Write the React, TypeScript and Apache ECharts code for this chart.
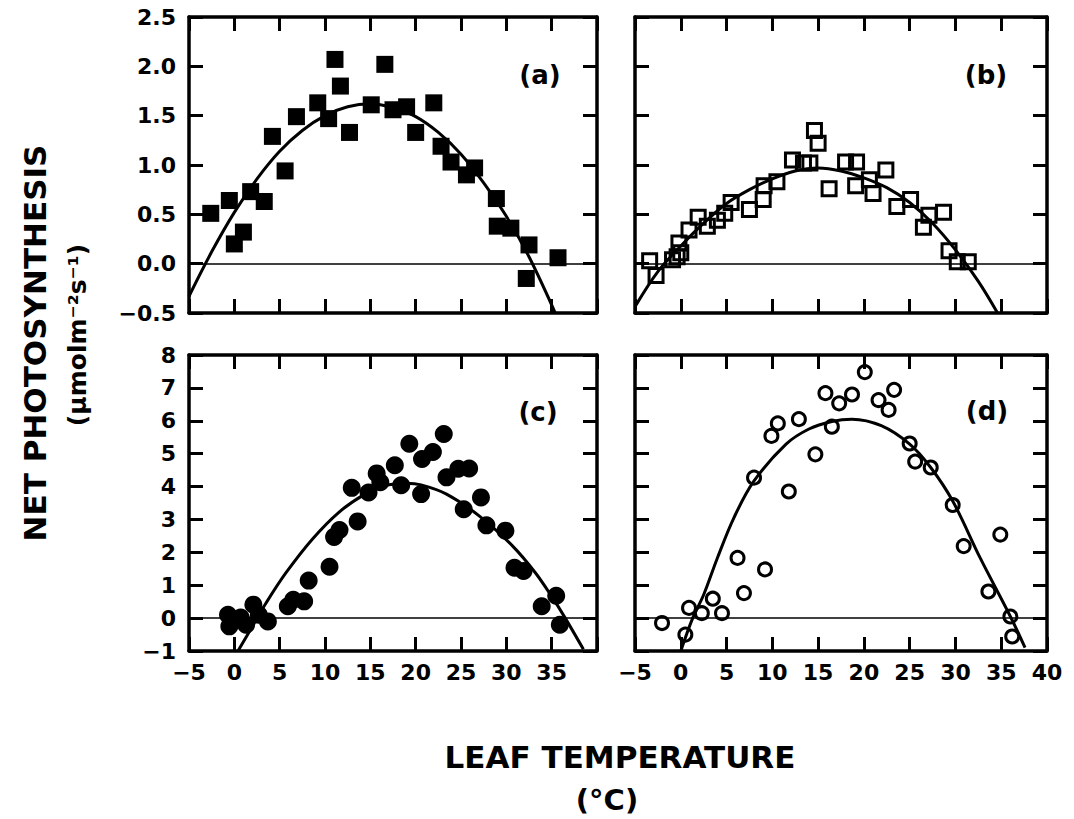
import React, { useEffect, useRef } from "react";
import * as echarts from "echarts";

// Panel (a): filled squares
const aX = [-2.6, -0.55, 0, 1.0, 1.8, 3.3, 4.2, 5.6, 6.85, 9.2, 10.4, 11.1, 11.7, 12.7, 15.1, 16.6, 17.5, 19.0, 20.0, 22.0, 22.8, 23.9, 25.6, 26.5, 28.9, 29.0, 30.5, 32.5, 32.2, 35.7];
const aY = [0.51, 0.64, 0.2, 0.32, 0.73, 0.63, 1.29, 0.94, 1.49, 1.63, 1.47, 2.07, 1.8, 1.33, 1.61, 2.02, 1.56, 1.59, 1.33, 1.63, 1.19, 1.03, 0.9, 0.97, 0.66, 0.38, 0.36, 0.19, -0.15, 0.06];
const aCurveX = [-5, -2.5, 0, 2.5, 5, 7.5, 10, 12.5, 15, 17.5, 20, 22.5, 25, 27.5, 30, 32.5, 35.4];
const aCurveY = [-0.33, 0.12, 0.52, 0.86, 1.14, 1.35, 1.5, 1.59, 1.62, 1.58, 1.49, 1.33, 1.11, 0.82, 0.48, 0.07, -0.5];

// Panel (b): open squares
const bX = [-3.4, -2.7, -0.9, -0.4, 0, -0.2, 0.9, 1.9, 2.9, 4.0, 4.8, 5.5, 7.5, 9.0, 9.1, 10.5, 12.2, 13.4, 14.1, 14.6, 15.0, 16.2, 18.0, 19.2, 19.1, 20.6, 21.0, 22.4, 23.6, 25.1, 26.5, 27.1, 28.7, 29.3, 30.2, 31.4];
const bY = [0.03, -0.12, 0.04, 0.07, 0.11, 0.21, 0.34, 0.47, 0.38, 0.44, 0.51, 0.62, 0.55, 0.65, 0.79, 0.83, 1.05, 1.02, 1.02, 1.35, 1.22, 0.76, 1.03, 1.03, 0.79, 0.85, 0.71, 0.95, 0.58, 0.65, 0.37, 0.49, 0.52, 0.13, 0.02, 0.02];
const bCurveX = [-4.9, -2.5, 0, 2.5, 5, 7.5, 10, 12.5, 15, 17.5, 20, 22.5, 25, 27.5, 30, 32.5, 34.6];
const bCurveY = [-0.42, -0.08, 0.18, 0.41, 0.61, 0.75, 0.86, 0.94, 0.97, 0.94, 0.87, 0.77, 0.62, 0.41, 0.14, -0.18, -0.5];

// Panel (c): filled circles
const cX = [-0.7, -0.55, 0.7, 1.3, 2.1, 2.7, 3.7, 5.9, 6.5, 7.7, 8.2, 10.5, 11.0, 11.6, 12.95, 13.6, 14.8, 15.7, 16.1, 17.7, 18.4, 19.3, 20.6, 20.7, 21.9, 23.1, 23.4, 24.7, 25.9, 25.3, 27.2, 27.8, 29.9, 30.9, 31.9, 33.9, 35.5, 35.9];
const cY = [0.1, -0.25, 0.02, -0.2, 0.41, 0.1, -0.1, 0.36, 0.56, 0.51, 1.14, 1.56, 2.47, 2.68, 3.96, 2.94, 3.82, 4.4, 4.13, 4.65, 4.04, 5.3, 3.77, 4.84, 5.05, 5.6, 4.28, 4.54, 4.55, 3.31, 3.67, 2.82, 2.66, 1.53, 1.43, 0.36, 0.68, -0.2];
const cCurveX = [0.4, 2.0, 3.5, 5.7, 8.6, 11.5, 14.4, 16.5, 19, 20.6, 23.4, 27.0, 30.7, 33.2, 35.0, 36.5, 38.5];
const cCurveY = [-1.0, -0.25, 0.46, 1.38, 2.4, 3.21, 3.77, 4.02, 4.1, 4.05, 3.77, 3.11, 2.19, 1.38, 0.66, 0.0, -0.95];

// Panel (d): open circles
const dX = [-2.05, 0.5, 0.9, 2.3, 3.5, 4.5, 6.2, 6.9, 8.0, 9.2, 9.9, 10.6, 11.8, 12.9, 14.7, 15.8, 16.5, 17.3, 18.7, 20.1, 21.6, 22.7, 23.3, 25.0, 25.6, 27.3, 29.7, 30.9, 33.6, 34.9, 36.0, 36.2];
const dY = [-0.15, -0.5, 0.31, 0.15, 0.59, 0.15, 1.83, 0.76, 4.27, 1.48, 5.54, 5.92, 3.85, 6.05, 4.98, 6.84, 5.82, 6.53, 6.8, 7.48, 6.63, 6.33, 6.94, 5.31, 4.76, 4.58, 3.44, 2.19, 0.81, 2.54, 0.05, -0.56];
const dCurveX = [0, 1.3, 2.5, 4.0, 5.8, 8.0, 11.5, 14.0, 16.5, 18.7, 21.9, 25.0, 27.3, 29.7, 32.7, 36.0, 37.6];
const dCurveY = [-1.0, 0.0, 0.71, 1.83, 3.05, 4.17, 5.29, 5.75, 5.98, 6.05, 5.85, 5.29, 4.58, 3.56, 1.83, 0.05, -0.9];

const panelLabels = ["(a)", "(b)", "(c)", "(d)"];
const yTitle = "NET PHOTOSYNTHESIS";
const yUnit = "(μmolm⁻²s⁻¹)";
const xTitle = "LEAF TEMPERATURE";
const xUnit = "(°C)";

const FONT = '"DejaVu Sans", "Liberation Sans", sans-serif';

const zip = (xs: number[], ys: number[]) => xs.map((x, i) => [x, ys[i]]);
const fmtNum = (v: number, dec: number) => (v < 0 ? "−" : "") + Math.abs(v).toFixed(dec);

export default function App() {
  const ref = useRef<HTMLDivElement>(null);
  useEffect(() => {
    if (!ref.current) return;
    const chart = echarts.init(ref.current, undefined, { renderer: "svg" });

    const grids = [
      { left: 189, top: 17, width: 408, height: 296 },
      { left: 635, top: 17, width: 412, height: 296 },
      { left: 189, top: 355, width: 408, height: 296 },
      { left: 635, top: 355, width: 412, height: 296 },
    ];
    const yRanges = [
      { min: -0.5, max: 2.5, interval: 0.5, dec: 1 },
      { min: -0.5, max: 2.5, interval: 0.5, dec: 1 },
      { min: -1, max: 8, interval: 1, dec: 0 },
      { min: -1, max: 8, interval: 1, dec: 0 },
    ];
    const lineW = 3.5;
    const tick = { show: true, inside: true, length: 14, lineStyle: { color: "#000", width: 3 } };
    const labelStyle = { color: "#000", fontFamily: FONT, fontWeight: "bold" as const, fontSize: 22 };

    const xAxes: any[] = [];
    const yAxes: any[] = [];
    grids.forEach((_, gi) => {
      ["bottom", "top"].forEach((pos) => {
        const showLbl = pos === "bottom" && gi >= 2;
        xAxes.push({
          type: "value",
          gridIndex: gi,
          position: pos,
          min: -5,
          max: 40,
          interval: 5,
          axisLine: { show: true, onZero: false, lineStyle: { color: "#000", width: lineW } },
          axisTick: tick,
          splitLine: { show: false },
          axisLabel: {
            show: showLbl,
            margin: 10,
            ...labelStyle,
            formatter: (v: number) => (gi === 2 && v === 40 ? "" : fmtNum(v, 0)),
          },
        });
      });
      ["left", "right"].forEach((pos) => {
        const r = yRanges[gi];
        const showLbl = pos === "left" && (gi === 0 || gi === 2);
        yAxes.push({
          type: "value",
          gridIndex: gi,
          position: pos,
          min: r.min,
          max: r.max,
          interval: r.interval,
          axisLine: { show: true, onZero: false, lineStyle: { color: "#000", width: lineW } },
          axisTick: tick,
          splitLine: { show: false },
          axisLabel: {
            show: showLbl,
            margin: 13,
            ...labelStyle,
            formatter: (v: number) => fmtNum(v, r.dec),
          },
        });
      });
    });

    const panels = [
      { pts: zip(aX, aY), curve: zip(aCurveX, aCurveY), symbol: "rect", size: 17, filled: true },
      { pts: zip(bX, bY), curve: zip(bCurveX, bCurveY), symbol: "rect", size: 14, filled: false },
      { pts: zip(cX, cY), curve: zip(cCurveX, cCurveY), symbol: "circle", size: 18, filled: true },
      { pts: zip(dX, dY), curve: zip(dCurveX, dCurveY), symbol: "circle", size: 13, filled: false },
    ];

    const series: any[] = [];
    panels.forEach((p, gi) => {
      series.push({
        type: "line",
        xAxisIndex: gi * 2,
        yAxisIndex: gi * 2,
        data: p.curve,
        smooth: 0.35,
        showSymbol: false,
        symbol: "none",
        clip: true,
        lineStyle: { color: "#000", width: 3 },
        z: 3,
        markLine: {
          silent: true,
          symbol: ["none", "none"],
          label: { show: false },
          lineStyle: { color: "#000", width: 1.6, type: "solid" },
          data: [{ yAxis: 0 }],
        },
      });
      series.push({
        type: "scatter",
        xAxisIndex: gi * 2,
        yAxisIndex: gi * 2,
        data: p.pts,
        symbol: p.symbol,
        symbolSize: p.size,
        clip: true,
        z: 4,
        itemStyle: p.filled
          ? { color: "#000", opacity: 1 }
          : { color: "rgba(255,255,255,0)", borderColor: "#000", borderWidth: 3, opacity: 1 },
      });
    });

    const labelPos = [
      [540, 75],
      [986, 75],
      [538, 412],
      [987, 411],
    ];
    const graphic: any[] = labelPos.map((pp, i) => ({
      type: "text",
      x: pp[0],
      y: pp[1],
      style: {
        text: panelLabels[i],
        fill: "#000",
        font: `bold 26px ${FONT}`,
        align: "center",
        verticalAlign: "middle",
      },
    }));
    graphic.push(
      {
        type: "text",
        x: 35,
        y: 343,
        rotation: Math.PI / 2,
        style: { text: yTitle, fill: "#000", font: `bold 31px ${FONT}`, align: "center", verticalAlign: "middle" },
      },
      {
        type: "text",
        x: 77,
        y: 335,
        rotation: Math.PI / 2,
        style: { text: yUnit, fill: "#000", font: `bold 25px ${FONT}`, align: "center", verticalAlign: "middle" },
      },
      {
        type: "text",
        x: 620,
        y: 757,
        style: { text: xTitle, fill: "#000", font: `bold 31px ${FONT}`, align: "center", verticalAlign: "middle" },
      },
      {
        type: "text",
        x: 607,
        y: 800,
        style: { text: xUnit, fill: "#000", font: `bold 29px ${FONT}`, align: "center", verticalAlign: "middle" },
      }
    );

    chart.setOption({
      animation: false,
      backgroundColor: "#fff",
      grid: grids.map((g) => ({ ...g, containLabel: false })),
      xAxis: xAxes,
      yAxis: yAxes,
      series,
      graphic,
    });
    return () => chart.dispose();
  }, []);

  return (
    <div
      ref={ref}
      style={{ position: "absolute", left: 0, top: 0, width: 1074, height: 819, background: "#fff" }}
    />
  );
}
